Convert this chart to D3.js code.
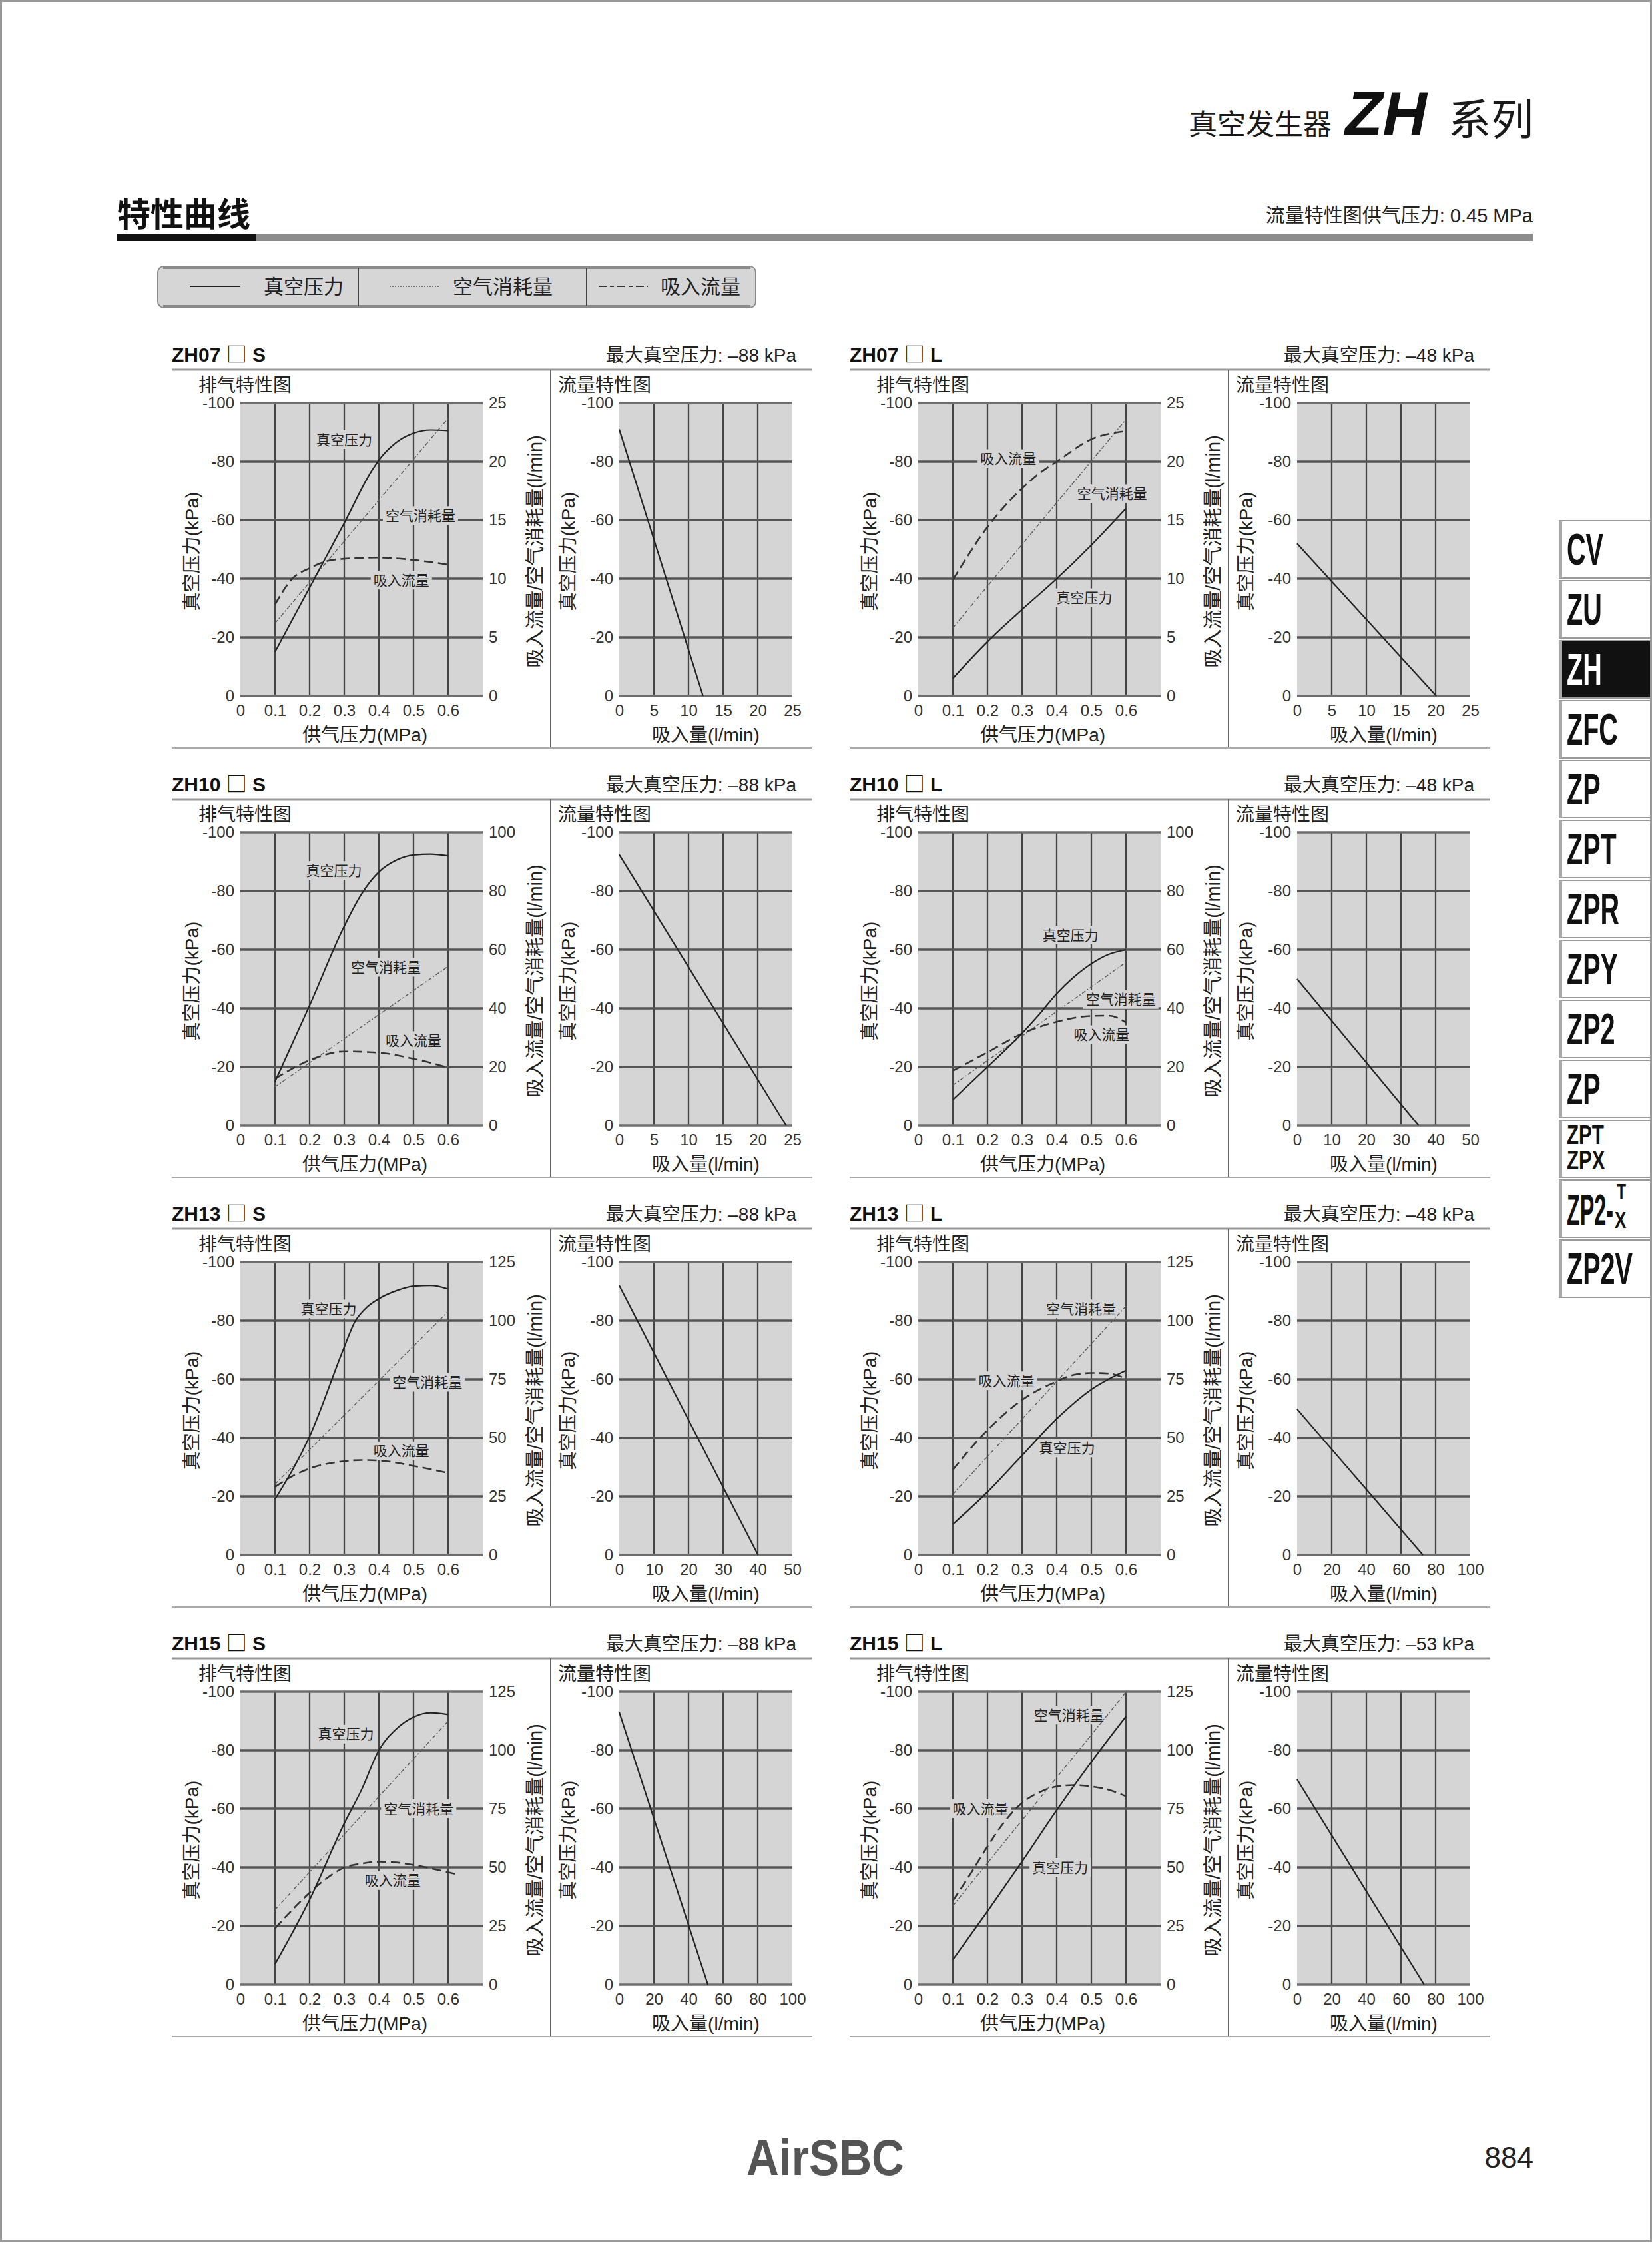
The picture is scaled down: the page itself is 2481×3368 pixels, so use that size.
<!DOCTYPE html>
<html><head><meta charset="utf-8">
<script src="https://cdn.jsdelivr.net/npm/d3@7"></script>
<style>
html,body{margin:0;padding:0;background:#fff;}
svg{display:block;}
text{font-family:"Liberation Sans","Noto Sans CJK SC",sans-serif;}
</style></head><body>
<svg id="c" width="2481" height="3368"></svg>
<script>
// ---------------- DATA ----------------
const panelModels = ["ZH07","ZH07","ZH10","ZH10","ZH13","ZH13","ZH15","ZH15"];
const panelSuffix = ["S","L","S","L","S","L","S","L"];
const maxVacuumText = ["–88 kPa","–48 kPa","–88 kPa","–48 kPa","–88 kPa","–48 kPa","–88 kPa","–53 kPa"];
const supplyTicks = [0,0.1,0.2,0.3,0.4,0.5,0.6];
const vacuumTicks = [0,-20,-40,-60,-80,-100];
const consumptionTicks25 = [0,5,10,15,20,25];
const consumptionTicks100 = [0,20,40,60,80,100];
const consumptionTicks125 = [0,25,50,75,100,125];
const consumptionTicks = [consumptionTicks25,consumptionTicks25,consumptionTicks100,consumptionTicks100,
                          consumptionTicks125,consumptionTicks125,consumptionTicks125,consumptionTicks125];
const flowTicks25 = [0,5,10,15,20,25];
const flowTicks50 = [0,10,20,30,40,50];
const flowTicks100 = [0,20,40,60,80,100];
const flowTicks = [flowTicks25,flowTicks25,flowTicks25,flowTicks50,flowTicks50,flowTicks100,flowTicks100,flowTicks100];

// 真空压力 (supply MPa, kPa)
const vacuumPressure = [
  [[0.1,-15],[0.2,-37],[0.3,-59],[0.38,-77],[0.4,-80.5],[0.45,-86.5],[0.5,-89.7],[0.55,-90.8],[0.6,-90.6]],
  [[0.1,-6],[0.2,-18.5],[0.3,-29.5],[0.4,-40],[0.5,-51.5],[0.6,-64]],
  [[0.1,-15],[0.2,-41],[0.3,-68],[0.35,-79],[0.4,-86.5],[0.45,-90.5],[0.5,-92.3],[0.55,-92.6],[0.6,-92]],
  [[0.1,-8.8],[0.2,-20],[0.3,-31.5],[0.35,-38],[0.4,-45],[0.45,-50.7],[0.5,-55.2],[0.55,-58.4],[0.6,-60]],
  [[0.1,-19],[0.2,-40.5],[0.3,-71],[0.33,-79.5],[0.36,-84],[0.4,-87.5],[0.45,-90.2],[0.5,-91.8],[0.55,-92],[0.6,-90.8]],
  [[0.1,-10.5],[0.2,-21.5],[0.3,-34],[0.4,-46.5],[0.5,-56.5],[0.6,-63]],
  [[0.1,-7],[0.2,-29],[0.3,-55],[0.35,-66.5],[0.4,-80],[0.45,-87.2],[0.5,-91.3],[0.55,-92.8],[0.6,-92.2]],
  [[0.1,-8.5],[0.2,-25],[0.3,-42],[0.4,-59.5],[0.5,-76],[0.6,-91.5]]
];
// 空气消耗量 (supply MPa, l/min)
const airConsumption = [
  [[0.1,6.2],[0.6,23.7]],
  [[0.1,5.8],[0.6,23.6]],
  [[0.1,13.2],[0.6,54.3]],
  [[0.1,13.8],[0.6,55.7]],
  [[0.1,30.2],[0.6,103.9]],
  [[0.1,25.9],[0.6,106.2]],
  [[0.1,31.9],[0.6,112.4]],
  [[0.1,33.6],[0.6,124.8]]
];
// 吸入流量 (supply MPa, l/min)
const suctionFlow = [
  [[0.1,7.8],[0.15,10],[0.2,10.9],[0.25,11.5],[0.3,11.7],[0.4,11.8],[0.5,11.6],[0.6,11.2]],
  [[0.1,9.9],[0.2,14.4],[0.25,16.2],[0.3,17.7],[0.35,19],[0.4,20],[0.5,21.9],[0.6,22.6]],
  [[0.1,16],[0.2,22.3],[0.3,25.3],[0.4,24.9],[0.5,22.8],[0.6,19.8]],
  [[0.1,18.7],[0.2,25],[0.3,31.4],[0.4,35.4],[0.5,37.4],[0.55,37.5],[0.6,35.2]],
  [[0.1,29],[0.15,33.6],[0.2,36.9],[0.3,40],[0.35,40.5],[0.4,40.3],[0.5,38],[0.6,35]],
  [[0.1,36.4],[0.2,53.3],[0.3,66.2],[0.4,74.1],[0.45,76.9],[0.5,77.7],[0.55,77.5],[0.6,75.2]],
  [[0.1,24],[0.15,31.9],[0.2,39.2],[0.25,45.4],[0.3,49.9],[0.35,51.6],[0.4,52.4],[0.45,52.1],[0.5,51],[0.62,47.2]],
  [[0.1,35.8],[0.15,47],[0.2,58.9],[0.25,69.6],[0.3,77.5],[0.35,82],[0.4,84.5],[0.45,85.1],[0.5,84.5],[0.55,83.1],[0.6,80.3]]
];
// 流量特性 (吸入量 l/min, kPa)
const flowLine = [
  [[0,-91],[12.1,0]],
  [[0,-52],[20.1,0]],
  [[0,-92.4],[24.1,0]],
  [[0,-50],[35.1,0]],
  [[0,-92],[40.1,0]],
  [[0,-49.8],[72.7,0]],
  [[0,-93],[51.2,0]],
  [[0,-70],[73.4,0]]
];
// curve labels: [text, supply MPa, kPa]
const curveLabels = [
  [["真空压力",0.30,-87.5],["空气消耗量",0.52,-61.5],["吸入流量",0.465,-39.5]],
  [["吸入流量",0.26,-81],["空气消耗量",0.56,-69],["真空压力",0.48,-33.5]],
  [["真空压力",0.27,-87],["空气消耗量",0.42,-54],["吸入流量",0.50,-29]],
  [["真空压力",0.44,-65],["空气消耗量",0.585,-43],["吸入流量",0.53,-31]],
  [["真空压力",0.255,-84],["空气消耗量",0.54,-59],["吸入流量",0.465,-35.5]],
  [["空气消耗量",0.47,-84],["吸入流量",0.255,-59.5],["真空压力",0.43,-36.5]],
  [["真空压力",0.305,-85.5],["空气消耗量",0.515,-60],["吸入流量",0.44,-35.5]],
  [["空气消耗量",0.435,-92],["吸入流量",0.18,-60],["真空压力",0.41,-40]]
];
const legendItems = ["真空压力","空气消耗量","吸入流量"];
const sideTabs = ["CV","ZU","ZH","ZFC","ZP","ZPT","ZPR","ZPY","ZP2","ZP","ZPT/ZPX","ZP2-TX","ZP2V"];
const activeTab = "ZH";

// ---------------- DRAW ----------------
const svg = d3.select("#c");
const CJK = '"Noto Sans CJK SC","Liberation Sans",sans-serif';
const PLOT_FILL = "#d5d5d5";

// page frame
svg.append("rect").attr("x",1.5).attr("y",1.5).attr("width",2478).attr("height",3364)
  .attr("fill","none").attr("stroke","#9a9a9a").attr("stroke-width",3);

// header
svg.append("text").attr("x",2303).attr("y",202).attr("text-anchor","end")
  .style("font-family",CJK).attr("font-size",64).attr("fill","#1a1a1a").text("系列");
svg.append("text").attr("x",2143).attr("y",202).attr("text-anchor","end")
  .attr("font-size",92).attr("font-weight","bold").attr("font-style","italic").attr("fill","#111").text("ZH");
svg.append("text").attr("x",2000).attr("y",202).attr("text-anchor","end")
  .style("font-family",CJK).attr("font-size",43).attr("fill","#1a1a1a").text("真空发生器");

svg.append("text").attr("x",176).attr("y",340).style("font-family",CJK)
  .attr("font-size",50).attr("font-weight","bold").attr("fill","#111").text("特性曲线");
svg.append("rect").attr("x",176).attr("y",351).attr("width",2126).attr("height",11).attr("fill","#8c8c8c");
svg.append("rect").attr("x",176).attr("y",351).attr("width",208).attr("height",11).attr("fill","#111");
svg.append("text").attr("x",2302).attr("y",334).attr("text-anchor","end")
  .attr("font-size",29).attr("fill","#222").text("流量特性图供气压力: 0.45 MPa");

// legend
const lg = svg.append("g");
lg.append("rect").attr("x",237).attr("y",400).attr("width",898).attr("height",62).attr("rx",9)
  .attr("fill","#d6d6d6").attr("stroke","#8a8a8a").attr("stroke-width",2);
lg.append("line").attr("x1",245).attr("x2",1127).attr("y1",402).attr("y2",402).attr("stroke","#8a8a8a").attr("stroke-width",4);
lg.append("line").attr("x1",245).attr("x2",1127).attr("y1",460).attr("y2",460).attr("stroke","#8a8a8a").attr("stroke-width",4);
[538,881].forEach(x=>lg.append("line").attr("x1",x).attr("x2",x).attr("y1",402).attr("y2",460).attr("stroke","#444").attr("stroke-width",2));
const legendLines = [[285,361,null,2,"#222"],[585,661,"2,2",1.5,"#555"],[899,973,"12,5,6,5",2,"#333"]];
const legendTextX = [396,680,992];
legendItems.forEach((t,i)=>{
  const L = legendLines[i];
  lg.append("line").attr("x1",L[0]).attr("x2",L[1]).attr("y1",430).attr("y2",430)
    .attr("stroke",L[4]).attr("stroke-width",L[3]).attr("stroke-dasharray",L[2]);
  lg.append("text").attr("x",legendTextX[i]).attr("y",441).style("font-family",CJK)
    .attr("font-size",30).attr("fill","#222").text(t);
});

// side tabs
const tabs = svg.append("g");
sideTabs.forEach((t,i)=>{
  const y = 780 + i*90;
  const act = t===activeTab;
  tabs.append("rect").attr("x",2342).attr("y",y+2).attr("width",137).attr("height",86)
    .attr("fill",act?"#111":"#fff").attr("stroke","#9a9a9a").attr("stroke-width",2);
  tabs.append("rect").attr("x",2341).attr("y",y+2).attr("width",5).attr("height",86).attr("fill","#a8a8a8");
  const col = act?"#fff":"#111";
  if(t==="ZPT/ZPX"){
    ["ZPT","ZPX"].forEach((s,k)=>{
      tabs.append("text").attr("transform",`translate(2353,${y+38+k*38}) scale(0.74,1)`)
        .attr("font-size",40).attr("font-weight","bold").attr("fill",col).text(s);
    });
  } else if(t==="ZP2-TX"){
    tabs.append("text").attr("transform",`translate(2353,${y+70}) scale(0.49,1)`)
      .attr("font-size",66).attr("font-weight","bold").attr("fill",col).text("ZP2-");
    tabs.append("text").attr("transform",`translate(2428,${y+30}) scale(0.72,1)`)
      .attr("font-size",32).attr("font-weight","bold").attr("fill",col).text("T");
    tabs.append("text").attr("transform",`translate(2425,${y+74}) scale(0.72,1)`)
      .attr("font-size",36).attr("font-weight","bold").attr("fill",col).text("X");
  } else {
    tabs.append("text").attr("transform",`translate(2353,${y+68}) scale(0.6,1)`)
      .attr("font-size",66).attr("font-weight","bold").attr("fill",col).text(t);
  }
});

// footer
svg.append("text").attr("x",1121).attr("y",3266).attr("font-size",76).attr("font-weight","bold")
  .attr("fill","#555").attr("textLength",237).attr("lengthAdjust","spacingAndGlyphs").text("AirSBC");
svg.append("text").attr("x",2303).attr("y",3255).attr("text-anchor","end").attr("font-size",44)
  .attr("fill","#222").text("884");

// panels
const CELL_W = 52, PH = 440;
const LW = CELL_W*7, RW = CELL_W*5;

function drawGrid(g, w, xScale, xGrid, yScale){
  g.append("rect").attr("width",w).attr("height",PH).attr("fill",PLOT_FILL);
  g.selectAll(".vg").data(xGrid).join("line")
    .attr("x1",d=>xScale(d)).attr("x2",d=>xScale(d)).attr("y1",0).attr("y2",PH)
    .attr("stroke","#444").attr("stroke-width",2.3);
  g.selectAll(".hg").data(vacuumTicks).join("line")
    .attr("x1",0).attr("x2",w).attr("y1",d=>yScale(d)).attr("y2",d=>yScale(d))
    .attr("stroke",d=>(d===0||d===-100)?"#6e6e6e":"#555").attr("stroke-width",3.6);
}
function styleAxis(sel, size){
  sel.select(".domain").remove();
  sel.selectAll("text").attr("font-size",size).attr("fill","#333")
    .style("font-family",'"Liberation Sans",sans-serif');
}

for(let i=0;i<8;i++){
  const col=i%2, row=Math.floor(i/2);
  const ox = 258 + col*1018, oy = 530 + row*645;
  const P = svg.append("g");

  // title
  const tt = P.append("text").attr("x",ox).attr("y",oy+13).attr("font-size",30).attr("font-weight","bold").attr("fill","#111");
  tt.append("tspan").text(panelModels[i]+" ");
  tt.append("tspan").style("font-family",CJK).attr("font-weight","normal").attr("font-size",31).text("□");
  tt.append("tspan").text(" "+panelSuffix[i]);
  P.append("text").attr("x",ox+938).attr("y",oy+13).attr("text-anchor","end").attr("font-size",28).attr("fill","#222")
    .text("最大真空压力: "+maxVacuumText[i]);
  P.append("line").attr("x1",ox).attr("x2",ox+962).attr("y1",oy+25).attr("y2",oy+25).attr("stroke","#999").attr("stroke-width",3);
  P.append("line").attr("x1",ox+569).attr("x2",ox+569).attr("y1",oy+25).attr("y2",oy+593).attr("stroke","#666").attr("stroke-width",2);
  P.append("line").attr("x1",ox).attr("x2",ox+962).attr("y1",oy+593).attr("y2",oy+593).attr("stroke","#aaa").attr("stroke-width",2);

  P.append("text").attr("x",ox+40).attr("y",oy+58).style("font-family",CJK).attr("font-size",28).attr("fill","#222").text("排气特性图");
  P.append("text").attr("x",ox+580).attr("y",oy+58).style("font-family",CJK).attr("font-size",28).attr("fill","#222").text("流量特性图");

  // ---- left: exhaust characteristics
  const lx0 = ox+103, py0 = oy+75;
  const x = d3.scaleLinear().domain([0,0.7]).range([0,LW]);
  const y = d3.scaleLinear().domain([0,-100]).range([PH,0]);
  const cMax = consumptionTicks[i][consumptionTicks[i].length-1];
  const y2 = d3.scaleLinear().domain([0,cMax]).range([PH,0]);
  const L = P.append("g").attr("transform",`translate(${lx0},${py0})`);
  drawGrid(L, LW, x, supplyTicks.filter(d=>d>0), y);

  // labels with background
  curveLabels[i].forEach(([t,lxv,lyv])=>{
    const tx = L.append("text").attr("x",x(lxv)).attr("y",y(lyv)).attr("text-anchor","middle")
      .attr("dy","0.36em").style("font-family",CJK).attr("font-size",21).attr("fill","#222").text(t);
    const w = tx.node().getComputedTextLength()+8;
    L.insert("rect","text").attr("x",x(lxv)-w/2).attr("y",y(lyv)-14).attr("width",w).attr("height",28).attr("fill",PLOT_FILL);
  });
  L.selectAll("text").raise();

  const line1 = d3.line().x(d=>x(d[0])).y(d=>y(d[1])).curve(d3.curveMonotoneX);
  const line2 = d3.line().x(d=>x(d[0])).y(d=>y2(d[1])).curve(d3.curveMonotoneX);
  L.append("path").attr("d",line2(airConsumption[i])).attr("fill","none").attr("stroke","#5a5a5a")
    .attr("stroke-width",1.4).attr("stroke-dasharray","6,3,2,3");
  L.append("path").attr("d",line2(suctionFlow[i])).attr("fill","none").attr("stroke","#333")
    .attr("stroke-width",2.6).attr("stroke-dasharray","14,7");
  L.append("path").attr("d",line1(vacuumPressure[i])).attr("fill","none").attr("stroke","#222")
    .attr("stroke-width",2.2);

  const axL = L.append("g").call(d3.axisLeft(y).tickValues(vacuumTicks).tickSize(0).tickPadding(9).tickFormat(d=>String(d)));
  styleAxis(axL,24);
  const axR = L.append("g").attr("transform",`translate(${LW},0)`)
    .call(d3.axisRight(y2).tickValues(consumptionTicks[i]).tickSize(0).tickPadding(9).tickFormat(d=>String(d)));
  styleAxis(axR,24);
  const axB = L.append("g").attr("transform",`translate(0,${PH})`)
    .call(d3.axisBottom(x).tickValues(supplyTicks).tickSize(0).tickPadding(13).tickFormat(d=>String(d)));
  styleAxis(axB,24);

  P.append("text").attr("x",ox+290).attr("y",oy+583).attr("text-anchor","middle").attr("font-size",28).attr("fill","#222").text("供气压力(MPa)");
  P.append("text").attr("transform",`translate(${ox+30},${py0+PH/2+3}) rotate(-90)`).attr("text-anchor","middle")
    .attr("dy","0.36em").attr("font-size",28).attr("fill","#222").text("真空压力(kPa)");
  P.append("text").attr("transform",`translate(${ox+546},${py0+PH/2+3}) rotate(-90)`).attr("text-anchor","middle")
    .attr("dy","0.36em").attr("font-size",29).attr("fill","#222").text("吸入流量/空气消耗量(l/min)");

  // ---- right: flow characteristics
  const rx0 = ox+672;
  const fMax = flowTicks[i][flowTicks[i].length-1];
  const xf = d3.scaleLinear().domain([0,fMax]).range([0,RW]);
  const R = P.append("g").attr("transform",`translate(${rx0},${py0})`);
  drawGrid(R, RW, xf, flowTicks[i].filter(d=>d>0 && d<fMax), y);
  const lineF = d3.line().x(d=>xf(d[0])).y(d=>y(d[1]));
  R.append("path").attr("d",lineF(flowLine[i])).attr("fill","none").attr("stroke","#222").attr("stroke-width",2.2);
  const axRL = R.append("g").call(d3.axisLeft(y).tickValues(vacuumTicks).tickSize(0).tickPadding(9).tickFormat(d=>String(d)));
  styleAxis(axRL,24);
  const axRB = R.append("g").attr("transform",`translate(0,${PH})`)
    .call(d3.axisBottom(xf).tickValues(flowTicks[i]).tickSize(0).tickPadding(13).tickFormat(d=>String(d)));
  styleAxis(axRB,24);
  P.append("text").attr("x",rx0+RW/2).attr("y",oy+583).attr("text-anchor","middle").attr("font-size",28).attr("fill","#222").text("吸入量(l/min)");
  P.append("text").attr("transform",`translate(${ox+595},${py0+PH/2+3}) rotate(-90)`).attr("text-anchor","middle")
    .attr("dy","0.36em").attr("font-size",28).attr("fill","#222").text("真空压力(kPa)");
}
</script>
</body></html>
